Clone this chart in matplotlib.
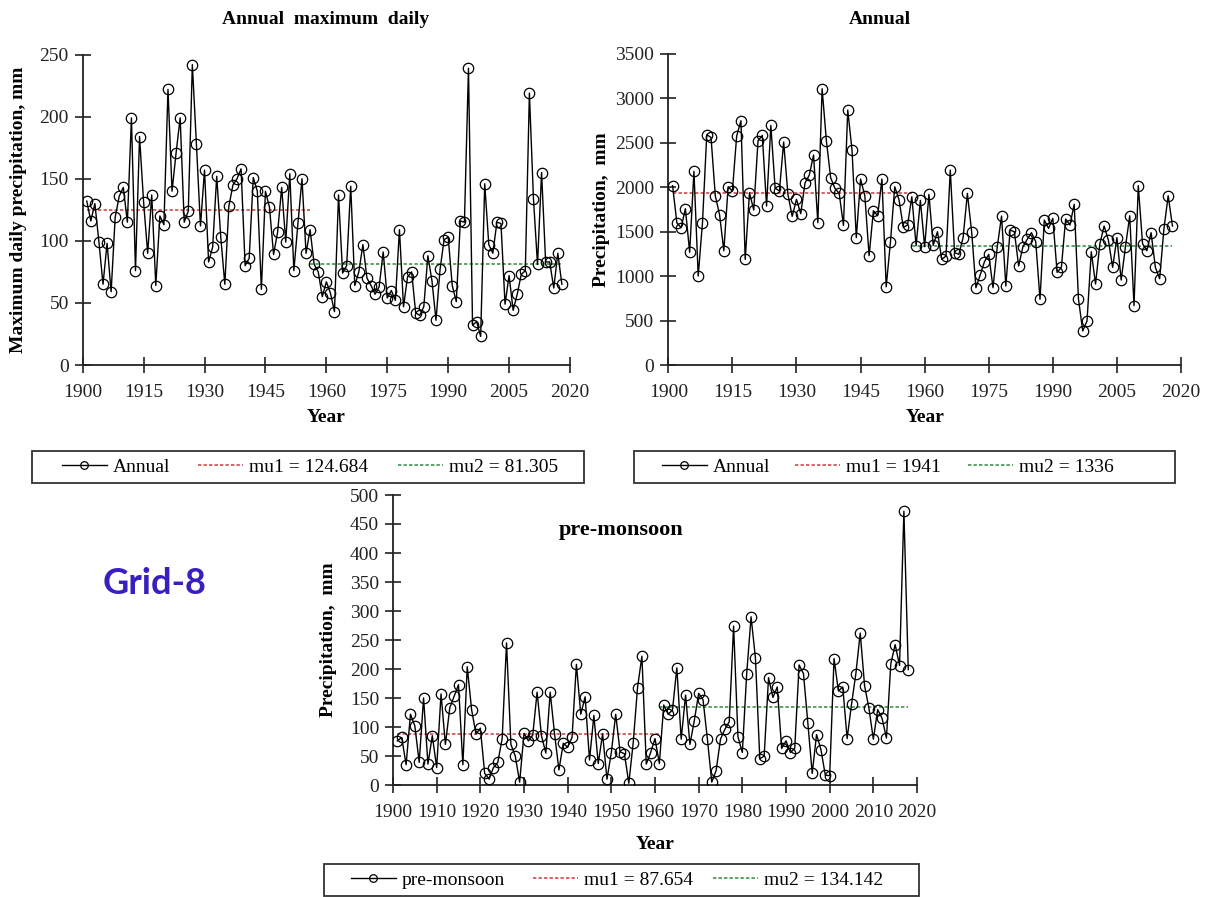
import matplotlib
matplotlib.use("Agg")
import matplotlib.pyplot as plt
from matplotlib.lines import Line2D
from matplotlib.patches import Rectangle

plt.rcParams["font.family"] = ["Liberation Serif", "DejaVu Serif"]

years = list(range(1901, 2019))

# Annual maximum daily precipitation (mm)
annual_max_daily = [
    132, 116, 130, 99, 65, 98, 59, 119, 136, 143,
    115, 199, 76, 184, 131, 90, 137, 64, 120, 113,
    222, 140, 171, 199, 115, 124, 242, 178, 112, 157,
    83, 95, 152, 103, 65, 128, 145, 150, 158, 80,
    86, 151, 140, 61, 140, 127, 89, 107, 143, 99,
    154, 76, 114, 150, 90, 109, 81, 75, 55, 67,
    58, 43, 137, 74, 80, 144, 64, 75, 97, 70,
    64, 57, 63, 91, 54, 60, 52, 109, 47, 71,
    75, 42, 40, 47, 88, 68, 36, 77, 101, 103,
    64, 51, 116, 115, 239, 32, 35, 23, 146, 97,
    90, 115, 114, 49, 72, 44, 57, 73, 76, 219,
    134, 81, 155, 83, 83, 62, 90, 65,
]

# Annual precipitation (mm)
annual_total = [
    2018, 1601, 1545, 1759, 1268, 2179, 1001, 1601, 2591, 2561,
    1905, 1691, 1286, 2006, 1958, 2576, 2749, 1189, 1939, 1744,
    2524, 2584, 1789, 2696, 1991, 1958, 2509, 1920, 1673, 1864,
    1703, 2048, 2138, 2363, 1601, 3109, 2524, 2108, 1988, 1931,
    1571, 2869, 2419, 1433, 2093, 1905, 1230, 1736, 1680, 2093,
    881, 1388, 2006, 1860, 1549, 1575, 1894, 1343, 1853, 1331,
    1920, 1346, 1500, 1189, 1226, 2194, 1264, 1245, 1433, 1931,
    1500, 870, 1013, 1163, 1245, 870, 1331, 1676, 889, 1519,
    1500, 1114, 1331, 1414, 1489, 1388, 739, 1631, 1538, 1650,
    1043, 1099, 1643, 1575, 1808, 743, 383, 495, 1275, 911,
    1361, 1564, 1406, 1099, 1433, 956, 1331, 1680, 668, 2018,
    1365, 1286, 1489, 1099, 971, 1530, 1905, 1564,
]

# Pre-monsoon precipitation (mm)
pre_monsoon = [
    76, 82, 35, 122, 102, 39, 150, 36, 85, 30,
    157, 70, 133, 153, 173, 35, 204, 130, 88, 98,
    20, 10, 30, 39, 80, 245, 70, 50, 5, 89,
    76, 86, 160, 85, 55, 160, 88, 26, 72, 65,
    82, 208, 122, 152, 43, 120, 37, 88, 10, 56,
    122, 57, 54, 3, 72, 168, 222, 36, 56, 80,
    37, 138, 122, 129, 202, 79, 155, 70, 111, 158,
    147, 79, 5, 25, 79, 96, 109, 274, 83, 56,
    192, 290, 219, 45, 50, 185, 151, 169, 63, 76,
    56, 63, 207, 192, 107, 20, 87, 61, 17, 16,
    218, 162, 169, 80, 139, 192, 262, 171, 132, 79,
    130, 115, 81, 209, 242, 206, 472, 199,
]

# Segment means and the year where the mean shifts
mu_max_daily = (124.684, 81.305)
mu_annual = (1941, 1336)
mu_pre = (87.654, 134.142)
split_max_daily = 1956
split_annual = 1957
split_pre = 1961

RED = "#cc3b3b"
GREEN = "#2f8a3f"
DASH = (0, (2.2, 1.4))
TICK_FS = 14
LBL_FS = 14

W, H = 1213, 897
fig = plt.figure(figsize=(W / 100, H / 100), dpi=100)


def px_axes(x0, x1, y_top, y_bottom):
    return fig.add_axes([x0 / W, 1 - y_bottom / H, (x1 - x0) / W, (y_bottom - y_top) / H])


def draw_panel(ax, values, mu, split, ymax, ystep, xstep, ylabel, ylabel_x, xlabel_y):
    ax.plot(years, values, color="black", lw=1.0, marker="o", ms=7.5,
            mfc="none", mec="black", mew=0.9, zorder=3)
    ax.plot([years[0], split], [mu[0], mu[0]], color=RED, lw=1.1, ls=DASH, zorder=2)
    ax.plot([split, years[-1]], [mu[1], mu[1]], color=GREEN, lw=1.1, ls=DASH, zorder=2)
    ax.set_xlim(1900, 2020)
    ax.set_ylim(0, ymax)
    ax.set_xticks(range(1900, 2021, xstep))
    ax.set_yticks(range(0, ymax + 1, ystep))
    for side in ("top", "right"):
        ax.spines[side].set_visible(False)
    for side in ("left", "bottom"):
        ax.spines[side].set_linewidth(1.3)
        ax.spines[side].set_color("#222222")
    ax.tick_params(direction="inout", length=12, width=1.2, labelsize=TICK_FS,
                   colors="#222222")
    ax.tick_params(axis="x", pad=8)
    ax.tick_params(axis="y", pad=4)
    ax.set_xlabel("Year", fontsize=LBL_FS, fontweight="bold")
    ax.xaxis.set_label_coords(0.5, xlabel_y)
    ax.set_ylabel(ylabel, fontsize=LBL_FS, fontweight="bold")
    ax.yaxis.set_label_coords(ylabel_x, 0.5)
    ax.set_facecolor("none")


def add_legend(series_name, mu, box, yc, starts):
    h = 32
    x0, x1 = box
    fig.patches.append(Rectangle((x0 / W, 1 - (yc + h / 2) / H), (x1 - x0) / W, h / H,
                                 transform=fig.transFigure, fill=False,
                                 ec="#333333", lw=1.3))
    entries = [
        (Line2D([], [], color="black", lw=1.0, marker="o", ms=5.5, mfc="none",
                mec="black", mew=0.9), series_name),
        (Line2D([], [], color=RED, lw=1.1, ls=DASH), f"mu1 = {mu[0]}"),
        (Line2D([], [], color=GREEN, lw=1.1, ls=DASH), f"mu2 = {mu[1]}"),
    ]
    for (handle, label), xs in zip(entries, starts):
        fig.legend([handle], [label], loc="center left",
                   bbox_to_anchor=(xs / W, 1 - yc / H), frameon=False,
                   fontsize=14, handlelength=2.3, handletextpad=0.3,
                   borderpad=0, borderaxespad=0)


# Annual maximum daily
ax1 = px_axes(82.7, 570, 54.6, 365)
draw_panel(ax1, annual_max_daily, mu_max_daily, split_max_daily, 250, 50, 15,
           "Maximum daily precipitation, mm", -0.114, -0.142)
fig.text(326 / W, 1 - 20 / H, "Annual  maximum  daily", ha="center", va="center",
         fontsize=14, fontweight="bold")
add_legend("Annual", mu_max_daily, (32, 584), 467, (62, 198, 398))

# Annual
ax2 = px_axes(668.3, 1181, 54, 365)
draw_panel(ax2, annual_total, mu_annual, split_annual, 3500, 500, 15,
           "Precipitation,  mm", -0.114, -0.142)
fig.text(880 / W, 1 - 20 / H, "Annual", ha="center", va="center",
         fontsize=14, fontweight="bold")
add_legend("Annual", mu_annual, (634, 1175), 467, (662, 795, 968))

# Pre-monsoon
ax3 = px_axes(393, 917, 495, 785)
draw_panel(ax3, pre_monsoon, mu_pre, split_pre, 500, 50, 10,
           "Precipitation,  mm", -0.107, -0.175)
fig.text(621 / W, 1 - 530 / H, "pre-monsoon", ha="center", va="center",
         fontsize=16, fontweight="bold")
add_legend("pre-monsoon", mu_pre, (324, 919), 880, (351, 533, 713))

fig.text(155 / W, 1 - 583 / H, "Grid-8", ha="center", va="center", fontsize=26,
         fontweight="bold", color="#3a1fc0", family=["Lato", "DejaVu Sans"])

fig.savefig("out.png", dpi=100, facecolor="white")
